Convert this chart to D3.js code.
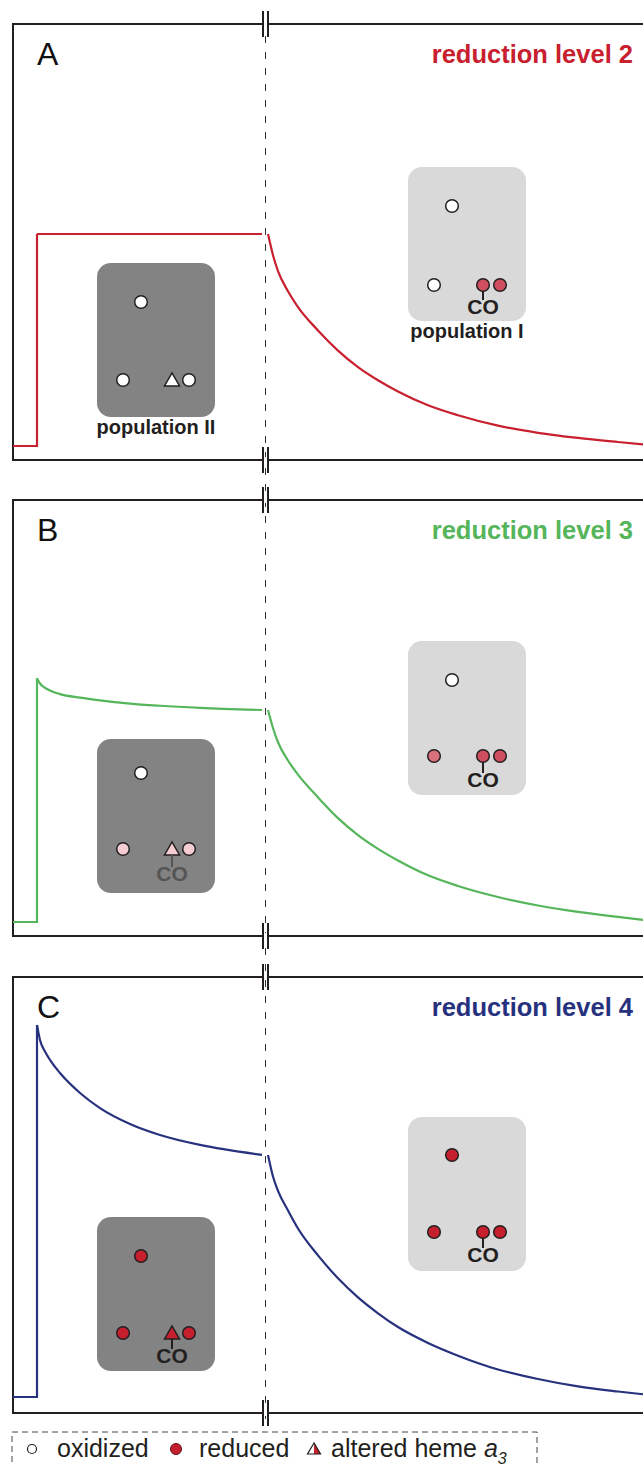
<!DOCTYPE html>
<html>
<head>
<meta charset="utf-8">
<script src="https://cdn.jsdelivr.net/npm/d3@7"></script>
<style>
  body { margin: 0; background: #fff; }
  svg { display: block; font-family: "Liberation Sans", Arial, sans-serif; }
</style>
</head>
<body>
<script>
// panel labels
const panelLetters = ["A", "B", "C"];
const panelTitles = ["reduction level 2", "reduction level 3", "reduction level 4"];

// left part (before break) - time points and traces
const leftTime = [0, 24, 24, 25, 27, 32, 37, 47, 67, 87, 117, 147, 187, 249];
const leftA = [0, 0, 1, 1, 1, 1, 1, 1, 1, 1, 1, 1, 1, 1];
const leftB = [0, 0, 1.15, 1.14, 1.125, 1.105, 1.092, 1.075, 1.058, 1.045, 1.03, 1.02, 1.01, 1.0];
const leftC = [0, 0, 1.755, 1.73, 1.684, 1.63, 1.59, 1.528, 1.434, 1.363, 1.288, 1.236, 1.189, 1.142];

// right part (after break)
const rightTime = [0, 1, 2, 4, 6, 10, 14, 18, 22, 26, 32, 38, 46, 54, 62, 70, 75];
const rightA = [1.0, 0.9, 0.825, 0.73, 0.655, 0.545, 0.45, 0.372, 0.31, 0.257, 0.192, 0.145, 0.096, 0.062, 0.038, 0.019, 0.008];
const rightB = [1.0, 0.915, 0.848, 0.762, 0.695, 0.588, 0.49, 0.41, 0.345, 0.29, 0.22, 0.17, 0.118, 0.078, 0.048, 0.024, 0.01];
const rightC = [1.142, 1.04, 0.972, 0.88, 0.795, 0.668, 0.56, 0.47, 0.395, 0.33, 0.255, 0.195, 0.13, 0.085, 0.05, 0.026, 0.013];

// heme states: top, bottom-left, middle (circle / triangle), right
const popIStates = [["ox", "ox", "mred", "mred"], ["ox", "lred", "mred", "mred"], ["red", "red", "red", "red"]];
const popIIStates = [["ox", "ox", "ox", "ox"], ["ox", "pink", "pink", "pink"], ["red", "red", "red", "red"]];
const popIICO = [null, "#555555", "#231f20"];
const legendLabels = ["oxidized", "reduced", "altered heme "];

const leftData = [leftA, leftB, leftC];
const rightData = [rightA, rightB, rightC];
const traceColors = ["#c8202e", "#55b55a", "#27327e"];
const stateFill = { ox: "#ffffff", pink: "#f3cdd1", lred: "#d8717b", mred: "#d04f5e", red: "#c61f2d" };

const W = 643, H = 1466;
const axisColor = "#231f20";
const panels = [
  { top: 24, bottom: 460, base: 446, light: 167, dark: 263,
    lt: [39, 118, 147], dk: [39, 117, 0] },
  { top: 500, bottom: 936, base: 922, light: 641, dark: 739,
    lt: [39, 115, 146], dk: [34, 110, 142] },
  { top: 977, bottom: 1413, base: 1397, light: 1117, dark: 1217,
    lt: [38, 115, 145], dk: [39, 116, 146] }
];

const svg = d3.select("body").append("svg").attr("width", W).attr("height", H);

const xLeft = d3.scaleLinear().domain([0, 249]).range([13, 262]);
const xRight = d3.scaleLinear().domain([0, 75]).range([268, 643]);
const breakX = 265.5;

// dashed guide line across all panels
svg.append("line")
  .attr("x1", breakX).attr("x2", breakX).attr("y1", 36).attr("y2", 1420)
  .attr("stroke", "#333").attr("stroke-width", 1).attr("stroke-dasharray", "7,9");

panels.forEach((p, i) => {
  const y = d3.scaleLinear().domain([0, 1]).range([p.base, p.base - 212]);
  const g = svg.append("g");

  // axes
  g.append("path")
    .attr("d", `M${W},${p.top}H13V${p.bottom}H${W}`)
    .attr("fill", "none").attr("stroke", axisColor).attr("stroke-width", 2);

  // axis breaks
  [p.top, p.bottom].forEach(yy => {
    g.append("rect").attr("x", 263).attr("y", yy - 3).attr("width", 5).attr("height", 6).attr("fill", "#fff");
    [263, 268].forEach(bx => {
      g.append("line").attr("x1", bx).attr("x2", bx).attr("y1", yy - 13).attr("y2", yy + 13)
        .attr("stroke", axisColor).attr("stroke-width", 2);
    });
  });

  // traces
  const lp = leftTime.map((t, k) => [xLeft(t), y(leftData[i][k])]);
  g.append("path").attr("d", d3.line()(lp.slice(0, 3)))
    .attr("fill", "none").attr("stroke", traceColors[i]).attr("stroke-width", 2.2);
  g.append("path").attr("d", d3.line().curve(d3.curveMonotoneX)(lp.slice(2)))
    .attr("fill", "none").attr("stroke", traceColors[i]).attr("stroke-width", 2.2);
  const rp = rightTime.map((t, k) => [xRight(t), y(rightData[i][k])]);
  g.append("path").attr("d", d3.line().curve(d3.curveMonotoneX)(rp))
    .attr("fill", "none").attr("stroke", traceColors[i]).attr("stroke-width", 2.2);

  // labels
  g.append("text").attr("x", 37).attr("y", p.top + 41).attr("font-size", 32)
    .attr("fill", "#111").text(panelLetters[i]);
  g.append("text").attr("x", 633).attr("y", p.top + 39).attr("text-anchor", "end")
    .attr("font-size", 25.5).attr("font-weight", "bold").attr("fill", traceColors[i])
    .text(panelTitles[i]);

  // population boxes
  drawBox(g, 408, p.light, "#d9d9d9", p.lt, popIStates[i], false, axisColor);
  drawBox(g, 97, p.dark, "#838383", p.dk, popIIStates[i], true, popIICO[i]);
  if (i === 0) {
    g.append("text").attr("x", 467).attr("y", p.light + 171).attr("text-anchor", "middle")
      .attr("font-size", 20).attr("font-weight", "bold").attr("fill", "#231f20").text("population I");
    g.append("text").attr("x", 156).attr("y", p.dark + 171).attr("text-anchor", "middle")
      .attr("font-size", 20).attr("font-weight", "bold").attr("fill", "#231f20").text("population II");
  }
});

function drawBox(g, bx, by, fill, off, states, tri, coColor) {
  g.append("rect").attr("x", bx).attr("y", by).attr("width", 118).attr("height", 154)
    .attr("rx", 14).attr("fill", fill);
  const pos = [[bx + 44, by + off[0]], [bx + 26, by + off[1]], [bx + 75, by + off[1]], [bx + 92, by + off[1]]];
  pos.forEach((c, k) => {
    if (k === 2 && tri) {
      g.append("path")
        .attr("d", `M${c[0] - 7.5},${c[1] + 6}L${c[0] + 7.5},${c[1] + 6}L${c[0]},${c[1] - 7}Z`)
        .attr("fill", stateFill[states[k]]).attr("stroke", "#231f20").attr("stroke-width", 1.5);
    } else {
      g.append("circle").attr("cx", c[0]).attr("cy", c[1]).attr("r", 6.3)
        .attr("fill", stateFill[states[k]]).attr("stroke", "#231f20").attr("stroke-width", 1.5);
    }
  });
  if (coColor) {
    const c = pos[2];
    g.append("line").attr("x1", c[0]).attr("x2", c[0]).attr("y1", c[1] + 6).attr("y2", by + off[2] - 14)
      .attr("stroke", coColor).attr("stroke-width", 2);
    g.append("text").attr("x", c[0]).attr("y", by + off[2]).attr("text-anchor", "middle")
      .attr("font-size", 21).attr("font-weight", "bold").attr("fill", coColor).text("CO");
  }
}

// legend
const lg = svg.append("g");
lg.append("rect").attr("x", 12).attr("y", 1432).attr("width", 525).attr("height", 60)
  .attr("fill", "none").attr("stroke", "#444").attr("stroke-width", 1).attr("stroke-dasharray", "6,4");
const ly = 1457;
lg.append("circle").attr("cx", 32).attr("cy", ly - 8).attr("r", 4.5)
  .attr("fill", "#fff").attr("stroke", "#231f20").attr("stroke-width", 1.2);
lg.append("text").attr("x", 57).attr("y", ly).attr("font-size", 25).attr("fill", "#231f20").text(legendLabels[0]);
lg.append("circle").attr("cx", 176).attr("cy", ly - 8).attr("r", 5.5)
  .attr("fill", stateFill.red).attr("stroke", "#5a1016").attr("stroke-width", 1);
lg.append("text").attr("x", 199).attr("y", ly).attr("font-size", 25).attr("fill", "#231f20").text(legendLabels[1]);
const tx = 314, ty = ly - 8;
lg.append("path").attr("d", `M${tx},${ty - 6}L${tx},${ty + 5}L${tx + 6.5},${ty + 5}Z`).attr("fill", stateFill.red);
lg.append("path").attr("d", `M${tx},${ty - 6}L${tx - 6.5},${ty + 5}L${tx + 6.5},${ty + 5}Z`)
  .attr("fill", "none").attr("stroke", "#231f20").attr("stroke-width", 1.2);
const lt = lg.append("text").attr("x", 331).attr("y", ly).attr("font-size", 25).attr("fill", "#231f20");
lt.append("tspan").text(legendLabels[2]);
lt.append("tspan").attr("font-style", "italic").text("a");
lt.append("tspan").attr("font-style", "italic").attr("font-size", 16).attr("dy", 7).text("3");
</script>
</body>
</html>
